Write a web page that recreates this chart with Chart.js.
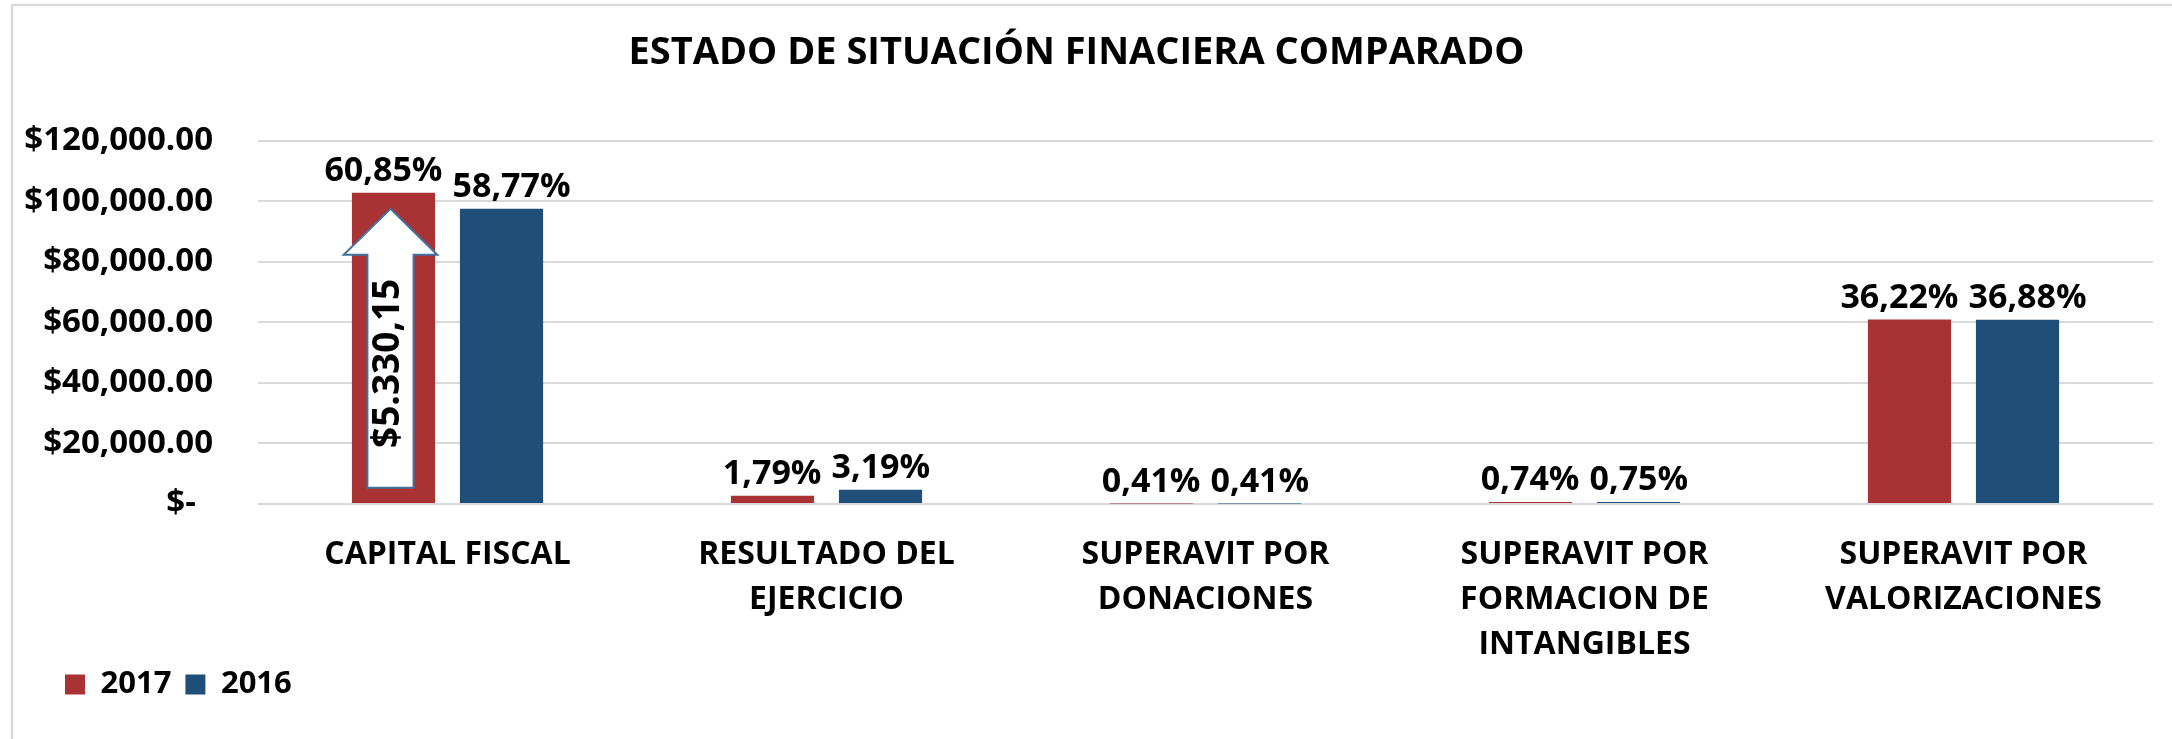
<!DOCTYPE html>
<html>
<head>
<meta charset="utf-8">
<script src="https://cdn.jsdelivr.net/npm/chart.js@4.4.1/dist/chart.umd.min.js"></script>
<style>
  html, body { margin: 0; padding: 0; background: #fff; }
</style>
</head>
<body>
<canvas id="chart" width="2172" height="739"></canvas>
<script>
// Estado de situación financiera comparado: 2017 vs 2016
const categories = [
    ['CAPITAL FISCAL'],
    ['RESULTADO DEL', 'EJERCICIO'],
    ['SUPERAVIT POR', 'DONACIONES'],
    ['SUPERAVIT POR', 'FORMACION DE', 'INTANGIBLES'],
    ['SUPERAVIT POR', 'VALORIZACIONES'],
];
const values2017 = [102800.15, 2700, 150, 700, 60900];
const values2016 = [97470, 4700, 150, 700, 60850];
const pct2017 = ['60,85%', '1,79%', '0,41%', '0,74%', '36,22%'];
const pct2016 = ['58,77%', '3,19%', '0,41%', '0,75%', '36,88%'];
const yTicks = [0, 20000, 40000, 60000, 80000, 100000, 120000];
const yTickLabels = ['$-  ', '$20,000.00', '$40,000.00', '$60,000.00', '$80,000.00', '$100,000.00', '$120,000.00'];

const FONT = "'Open Sans', 'DejaVu Sans', sans-serif";
const RED = '#A93234';
const BLUE = '#1F4E79';
const GRID = '#D9D9D9';

// white background + light grey frame of the chart object
const frame = {
    id: 'frame',
    beforeDraw(chart) {
        const ctx = chart.ctx;
        ctx.save();
        ctx.fillStyle = '#fff';
        ctx.fillRect(0, 0, chart.width, chart.height);
        ctx.strokeStyle = GRID;
        ctx.lineWidth = 2.5;
        ctx.strokeRect(12, 5, chart.width + 20, chart.height + 20);
        ctx.restore();
    }
};

// legend sits indented under the axis labels, like the Excel original
const legendNudge = {
    id: 'legendNudge',
    afterLayout(chart) {
        const lg = chart.legend;
        lg.left += 51; lg.right += 51;
        lg.top -= 7; lg.bottom -= 7;
    }
};

// percentage labels above every bar, pushed apart when the pair would touch
const barLabels = {
    id: 'barLabels',
    afterDatasetsDraw(chart) {
        const ctx = chart.ctx;
        const m0 = chart.getDatasetMeta(0).data;
        const m1 = chart.getDatasetMeta(1).data;
        const ds = chart.data.datasets;
        ctx.save();
        ctx.font = `bold 34px ${FONT}`;
        ctx.fillStyle = '#000';
        ctx.textAlign = 'center';
        ctx.textBaseline = 'alphabetic';
        m0.forEach((a, i) => {
            const b = m1[i];
            const ta = ds[0].pctLabels[i], tb = ds[1].pctLabels[i];
            const wa = ctx.measureText(ta).width, wb = ctx.measureText(tb).width;
            let xa = a.x, xb = b.x;
            const overlap = (wa + wb) / 2 + 10 - (xb - xa);
            if (overlap > 0) { xa -= overlap / 2; xb += overlap / 2; }
            ctx.fillText(ta, xa, a.y - 12);
            ctx.fillText(tb, xb, b.y - 12);
        });
        ctx.restore();
    }
};

// white arrow inside the 2017 capital bar showing the increase
const diffArrow = {
    id: 'diffArrow',
    afterDatasetsDraw(chart) {
        const ctx = chart.ctx;
        const bar = chart.getDatasetMeta(0).data[0];
        const y = chart.scales.y;
        const diff = values2017[0] - values2016[0];
        const tipY = y.getPixelForValue(values2016[0]);
        const baseY = y.getPixelForValue(diff);
        const cx = bar.x - 3;
        const shaftW = bar.width * 0.555;
        const headW = bar.width * 1.125;
        const headH = 46;

        ctx.save();
        ctx.beginPath();
        ctx.moveTo(cx, tipY);
        ctx.lineTo(cx + headW / 2, tipY + headH);
        ctx.lineTo(cx + shaftW / 2, tipY + headH);
        ctx.lineTo(cx + shaftW / 2, baseY);
        ctx.lineTo(cx - shaftW / 2, baseY);
        ctx.lineTo(cx - shaftW / 2, tipY + headH);
        ctx.lineTo(cx - headW / 2, tipY + headH);
        ctx.closePath();
        ctx.fillStyle = '#fff';
        ctx.fill();
        ctx.strokeStyle = '#41719C';
        ctx.lineWidth = 2;
        ctx.stroke();

        const txt = '$' + diff.toFixed(2).replace('.', ',').replace(/\B(?=(\d{3})+(?!\d))/, '.');
        ctx.translate(cx - 2, (tipY + headH + baseY) / 2 - 8);
        ctx.rotate(-Math.PI / 2);
        ctx.font = `bold 37px ${FONT}`;
        ctx.fillStyle = '#000';
        ctx.textAlign = 'center';
        ctx.textBaseline = 'middle';
        ctx.fillText(txt, 0, 0);
        ctx.restore();
    }
};

new Chart(document.getElementById('chart'), {
    type: 'bar',
    data: {
        labels: categories,
        datasets: [
            { label: '2017', data: values2017, backgroundColor: RED, pctLabels: pct2017 },
            { label: '2016', data: values2016, backgroundColor: BLUE, pctLabels: pct2016 },
        ]
    },
    options: {
        responsive: false,
        animation: false,
        categoryPercentage: 0.57,
        barPercentage: 0.77,
        layout: { padding: { left: 0, right: 19, top: 0, bottom: 22 } },
        plugins: {
            title: {
                display: true,
                text: 'ESTADO DE SITUACIÓN FINACIERA COMPARADO',
                color: '#000',
                font: { family: FONT, size: 38, weight: 'bold' },
                padding: { top: 30, bottom: 65 }
            },
            legend: {
                position: 'bottom',
                align: 'start',
                labels: {
                    boxWidth: 20,
                    boxHeight: 20,
                    padding: 14,
                    color: '#000',
                    font: { family: FONT, size: 31, weight: 'bold' }
                }
            },
            tooltip: { enabled: false }
        },
        scales: {
            x: {
                grid: { display: false },
                border: { display: false },
                ticks: {
                    color: '#000',
                    font: { family: FONT, size: 32, weight: 'bold', lineHeight: 1.406 },
                    padding: 20,
                    maxRotation: 0,
                    autoSkip: false
                },
                afterFit: s => { s.height = 158; }
            },
            y: {
                min: 0,
                max: 120000,
                grid: { color: GRID, lineWidth: 2, drawTicks: false },
                border: { display: false },
                ticks: {
                    stepSize: 20000,
                    color: '#000',
                    padding: 45,
                    font: { family: FONT, size: 33, weight: 'bold' },
                    callback: v => yTickLabels[yTicks.indexOf(v)]
                },
                afterFit: s => { s.width = 258; }
            }
        }
    },
    plugins: [frame, legendNudge, barLabels, diffArrow]
});
</script>
</body>
</html>
